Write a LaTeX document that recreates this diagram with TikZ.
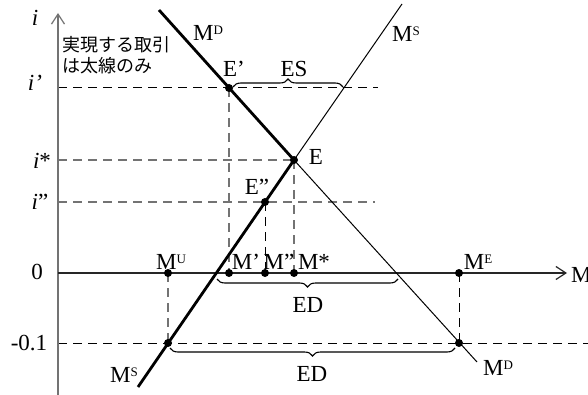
\documentclass[tikz,border=0pt]{standalone}
\usepackage{fontspec}
\setmainfont{Liberation Serif}
\newfontfamily\jpfont{Noto Sans CJK JP}
\usetikzlibrary{arrows.meta,decorations.pathreplacing}
\definecolor{axgray}{RGB}{115,115,115}
\newcommand\supx[1]{\raisebox{6.3pt}{\fontsize{13}{13}\selectfont #1}}
\tikzset{
  lbl/.style={inner sep=0pt, font=\fontsize{23}{26}\selectfont},
  ilbl/.style={inner sep=0pt, font=\fontsize{23}{26}\selectfont\itshape},
  dot/.style={circle, fill=black, inner sep=0pt, minimum size=8pt},
  thickl/.style={line width=2.8pt},
  thinl/.style={line width=1pt},
  dsh/.style={dash pattern=on 9pt off 6pt, line width=1pt},
  gdsh/.style={dsh, draw=axgray, line width=1.1pt},
  brc/.style={decorate, decoration={brace, amplitude=8pt}, line width=1.1pt},
  brcm/.style={decorate, decoration={brace, amplitude=8pt, mirror}, line width=1.1pt},
  axtip/.style={-{Straight Barb[length=10pt,width=13pt,line width=1.2pt]}},
}
\begin{document}
\begin{tikzpicture}[x=1pt,y=-1pt]
\useasboundingbox (0,0) rectangle (588,395);
% key points
\coordinate (Ep) at (229,88);
\coordinate (E) at (294,160);
\coordinate (Epp) at (265,202);
\coordinate (MU) at (168,273);
\coordinate (Mp) at (229,273);
\coordinate (Mpp) at (265,273);
\coordinate (Ms) at (294,273);
\coordinate (ME) at (459,273);
\coordinate (PL) at (168,343);
\coordinate (PR) at (459,343);
\coordinate (MDtop) at (159,10);
\coordinate (MDbot) at (477,362);
\coordinate (MStop) at (402,4);
\coordinate (MSbot) at (138,387);
\coordinate (Yb) at (58,395);
\coordinate (Yt) at (58,13);
\coordinate (Xl) at (58,273);
\coordinate (Xr) at (567,273);
\coordinate (Ip0) at (58,88);
\coordinate (Ip1) at (378,88);
\coordinate (Is0) at (58,160);
\coordinate (Ipp0) at (58,202);
\coordinate (Ipp1) at (375,202);
\coordinate (N0) at (58,343);
\coordinate (N1) at (588,343);
\coordinate (ESa) at (233,87);
\coordinate (ESb) at (343,87);
\coordinate (EDa) at (217,279);
\coordinate (EDb) at (398,279);
\coordinate (EDc) at (170,348);
\coordinate (EDd) at (455,348);
% dashed guides
\draw[dsh] (Ip0) -- (Ip1);
\draw[gdsh] (Is0) -- (E);
\draw[gdsh] (Ipp0) -- (Ipp1);
\draw[dsh] (N0) -- (N1);
\draw[gdsh] (Ep) -- (Mp);
\draw[dsh] (Epp) -- (Mpp);
\draw[gdsh] (E) -- (Ms);
\draw[gdsh] (MU) -- (PL);
\draw[dsh] (ME) -- (PR);
% axes
\draw[axgray, line width=1.5pt, axtip] (Yb) -- (Yt);
\draw[black!85, line width=1.2pt, axtip] (Xl) -- (Xr);
% curves
\draw[thickl] (MDtop) -- (E);
\draw[thinl] (E) -- (MDbot);
\draw[thickl] (MSbot) -- (E);
\draw[thinl] (E) -- (MStop);
% braces
\draw[brc] (ESa) -- (ESb);
\draw[brcm] (EDa) -- (EDb);
\draw[brcm] (EDc) -- (EDd);
% dots
\foreach \p in {Ep,E,Epp,MU,Mp,Mpp,Ms,ME,PL,PR} \node[dot] (d\p) at (\p) {};
% labels
\node[ilbl] (li) at (35,18) {i};
\node[ilbl] (lip) at (35,83) {i’};
\node[lbl] (lis) at (42,161) {\textit{i}*};
\node[lbl] (lipp) at (40,202) {\textit{i}”};
\node[lbl] (l0) at (37,272) {0};
\node[lbl] (lm01) at (29,343) {-0.1};
\node[lbl, anchor=west] (lM) at (571,275) {M};
\node[inner sep=0pt, anchor=north west, align=left, font=\fontsize{18}{21}\selectfont\jpfont] (note) at (62,36) {実現する取引\\は太線のみ};
\node[lbl] (lMDt) at (208,33) {M\supx{D}};
\node[lbl] (lMSt) at (406,34) {M\supx{S}};
\node[lbl] (lEp) at (234,69) {E’};
\node[lbl] (lES) at (294,69) {ES};
\node[lbl] (lE) at (316,157) {E};
\node[lbl] (lEpp) at (257,187) {E”};
\node[lbl] (lMU) at (171,262) {M\supx{U}};
\node[lbl] (lMp) at (246,262) {M’};
\node[lbl] (lMpp) at (279,262) {M”};
\node[lbl] (lMs) at (314,262) {M*};
\node[lbl] (lME) at (478,262) {M\supx{E}};
\node[lbl] (lED1) at (308,305) {ED};
\node[lbl] (lED2) at (312,374) {ED};
\node[lbl] (lMSb) at (124,375) {M\supx{S}};
\node[lbl] (lMDb) at (498,368) {M\supx{D}};
\end{tikzpicture}
\end{document}
